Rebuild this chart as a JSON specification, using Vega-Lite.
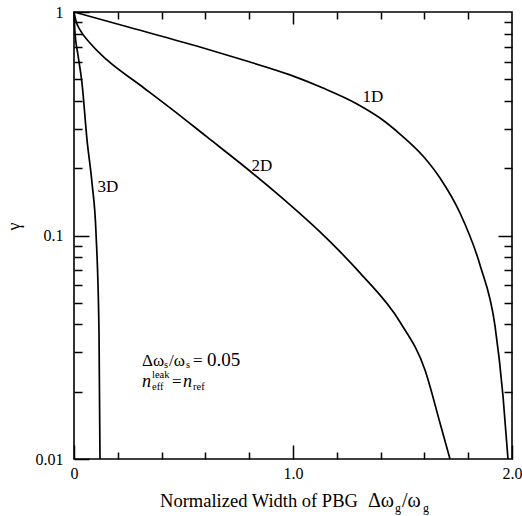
{
  "$schema": "https://vega.github.io/schema/vega-lite/v6.json",
  "autosize": "none",
  "width": 438,
  "height": 447,
  "padding": {"left": 74, "top": 12, "right": 10, "bottom": 57},
  "background": "white",
  "config": {
    "view": {"stroke": "black", "strokeWidth": 1.6},
    "axis": {"domain": false, "grid": false, "labelFont": "Liberation Serif", "labelFontSize": 16, "labelColor": "black", "tickColor": "black", "tickWidth": 1.5, "labelFlush": false, "labelOverlap": false, "titleFont": "Liberation Serif", "titleColor": "black", "titleFontWeight": "normal"},
    "text": {"font": "Liberation Serif", "color": "black", "baseline": "alphabetic", "align": "left"}
  },
  "datasets": {
    "curves": [
      {"curve": "1D", "x": 0, "y": 1},
      {"curve": "1D", "x": 0.2557, "y": 0.852},
      {"curve": "1D", "x": 0.5753, "y": 0.697},
      {"curve": "1D", "x": 0.758, "y": 0.616},
      {"curve": "1D", "x": 0.9863, "y": 0.523},
      {"curve": "1D", "x": 1.137, "y": 0.457},
      {"curve": "1D", "x": 1.2922, "y": 0.388},
      {"curve": "1D", "x": 1.3973, "y": 0.3355},
      {"curve": "1D", "x": 1.4886, "y": 0.2844},
      {"curve": "1D", "x": 1.5936, "y": 0.2268},
      {"curve": "1D", "x": 1.6712, "y": 0.1809},
      {"curve": "1D", "x": 1.7626, "y": 0.1261},
      {"curve": "1D", "x": 1.8539, "y": 0.0738},
      {"curve": "1D", "x": 1.9224, "y": 0.0394},
      {"curve": "1D", "x": 1.9589, "y": 0.01913},
      {"curve": "1D", "x": 1.9817, "y": 0.01},
      {"curve": "2D", "x": 0, "y": 1},
      {"curve": "2D", "x": 0.0091, "y": 0.911},
      {"curve": "2D", "x": 0.0274, "y": 0.831},
      {"curve": "2D", "x": 0.0731, "y": 0.727},
      {"curve": "2D", "x": 0.1507, "y": 0.61},
      {"curve": "2D", "x": 0.3014, "y": 0.4715},
      {"curve": "2D", "x": 0.4521, "y": 0.364},
      {"curve": "2D", "x": 0.6073, "y": 0.276},
      {"curve": "2D", "x": 0.758, "y": 0.211},
      {"curve": "2D", "x": 0.9406, "y": 0.15},
      {"curve": "2D", "x": 1.1233, "y": 0.1037},
      {"curve": "2D", "x": 1.3059, "y": 0.068},
      {"curve": "2D", "x": 1.4886, "y": 0.041},
      {"curve": "2D", "x": 1.6027, "y": 0.025},
      {"curve": "2D", "x": 1.6712, "y": 0.0145},
      {"curve": "2D", "x": 1.7169, "y": 0.01},
      {"curve": "3D", "x": 0, "y": 1},
      {"curve": "3D", "x": 0.0046, "y": 0.805},
      {"curve": "3D", "x": 0.0183, "y": 0.642},
      {"curve": "3D", "x": 0.0365, "y": 0.481},
      {"curve": "3D", "x": 0.0594, "y": 0.268},
      {"curve": "3D", "x": 0.0822, "y": 0.172},
      {"curve": "3D", "x": 0.1005, "y": 0.1026},
      {"curve": "3D", "x": 0.1142, "y": 0.0366},
      {"curve": "3D", "x": 0.1187, "y": 0.01}
    ],
    "labels": [
      {"x": 1.365, "y": 0.417, "t": "1D"},
      {"x": 0.858, "y": 0.205, "t": "2D"},
      {"x": 0.155, "y": 0.165, "t": "3D"}
    ],
    "texts": [
      {"kind": "ann", "x": 0.3105, "y": 0.02607, "t": "Δω"},
      {"kind": "ann", "x": 0.4338, "y": 0.02607, "t": "/ω"},
      {"kind": "ann", "x": 0.5434, "y": 0.02607, "t": "="},
      {"kind": "num", "x": 0.6073, "y": 0.02607, "t": "0.05"},
      {"kind": "ann", "x": 0.4475, "y": 0.021, "t": "="},
      {"kind": "ital", "x": 0.3105, "y": 0.021, "t": "n"},
      {"kind": "ital", "x": 0.4977, "y": 0.021, "t": "n"},
      {"kind": "small", "x": 0.411, "y": 0.02554, "t": "s"},
      {"kind": "small", "x": 0.5114, "y": 0.02554, "t": "s"},
      {"kind": "small", "x": 0.3562, "y": 0.02036, "t": "eff"},
      {"kind": "small", "x": 0.3562, "y": 0.02292, "t": "leak"},
      {"kind": "small", "x": 0.5434, "y": 0.02036, "t": "ref"},
      {"kind": "title", "x": 0.393, "y": 0.0061, "t": "Normalized Width of PBG"},
      {"kind": "greek", "x": 1.3425, "y": 0.0061, "t": "Δω"},
      {"kind": "greek", "x": 1.4977, "y": 0.0061, "t": "/ω"},
      {"kind": "titlesub", "x": 1.4658, "y": 0.0058, "t": "g"},
      {"kind": "titlesub", "x": 1.5936, "y": 0.0058, "t": "g"}
    ]
  },
  "resolve": {"axis": {"x": "independent", "y": "independent"}},
  "layer": [
    {
      "data": {"name": "curves"},
      "mark": {"type": "line", "color": "black", "strokeWidth": 1.7, "interpolate": "monotone"},
      "encoding": {
        "x": {"field": "x", "type": "quantitative", "scale": {"domain": [0, 2], "nice": false, "zero": false},
          "axis": {"orient": "bottom", "values": [0, 1, 2], "tickSize": -14, "labelPadding": 20, "labelExpr": "datum.value == 0 ? '0' : format(datum.value, '.1f')", "title": null}},
        "y": {"field": "y", "type": "quantitative", "scale": {"type": "log", "domain": [0.01, 1], "nice": false},
          "axis": {"orient": "left", "values": [0.01, 0.1, 1], "tickSize": -15, "labelPadding": 26, "labelExpr": "datum.value > 0.5 ? '1' : datum.value > 0.05 ? '0.1' : '0.01'", "title": "γ", "titleFontSize": 18, "titleX": -60, "titleY": 214, "titleBaseline": "middle", "titleAlign": "center"}},
        "detail": {"field": "curve"}
      }
    },
    {
      "data": {"name": "labels"},
      "mark": {"type": "text", "fontSize": 17, "align": "center", "baseline": "middle"},
      "encoding": {
        "x": {"field": "x", "type": "quantitative", "scale": {"domain": [0, 2], "nice": false, "zero": false},
          "axis": {"orient": "bottom", "values": [0.2, 0.4, 0.6, 0.8, 1.2, 1.4, 1.6, 1.8], "tickSize": -7, "labels": false, "title": null}},
        "y": {"field": "y", "type": "quantitative", "scale": {"type": "log", "domain": [0.01, 1], "nice": false},
          "axis": {"orient": "left", "values": [0.02, 0.03, 0.04, 0.05, 0.06, 0.07, 0.08, 0.09, 0.2, 0.3, 0.4, 0.5, 0.6, 0.7, 0.8, 0.9], "tickSize": -8, "labels": false, "title": null}},
        "text": {"field": "t"}
      }
    },
    {
      "data": {"name": "texts"},
      "transform": [{"filter": "datum.kind == 'ann'"}],
      "mark": {"type": "text", "fontSize": 17},
      "encoding": {
        "x": {"field": "x", "type": "quantitative", "scale": {"domain": [0, 2], "nice": false, "zero": false},
          "axis": {"orient": "top", "values": [1], "tickSize": -12, "labels": false, "title": null}},
        "y": {"field": "y", "type": "quantitative", "scale": {"type": "log", "domain": [0.01, 1], "nice": false},
          "axis": {"orient": "right", "values": [0.1], "tickSize": -14, "labels": false, "title": null}},
        "text": {"field": "t"}
      }
    },
    {
      "data": {"name": "texts"},
      "transform": [{"filter": "datum.kind == 'ital'"}],
      "mark": {"type": "text", "fontSize": 18, "fontStyle": "italic"},
      "encoding": {
        "x": {"field": "x", "type": "quantitative", "scale": {"domain": [0, 2], "nice": false, "zero": false},
          "axis": {"orient": "top", "values": [0.2, 0.4, 0.6, 0.8, 1.2, 1.4, 1.6, 1.8], "tickSize": -7, "labels": false, "title": null}},
        "y": {"field": "y", "type": "quantitative", "scale": {"type": "log", "domain": [0.01, 1], "nice": false},
          "axis": {"orient": "right", "values": [0.02, 0.03, 0.04, 0.05, 0.06, 0.07, 0.08, 0.09, 0.2, 0.3, 0.4, 0.5, 0.6, 0.7, 0.8, 0.9], "tickSize": -8, "labels": false, "title": null}},
        "text": {"field": "t"}
      }
    },
    {
      "data": {"name": "texts"},
      "transform": [{"filter": "datum.kind == 'num'"}],
      "mark": {"type": "text", "fontSize": 19},
      "encoding": {
        "x": {"field": "x", "type": "quantitative", "scale": {"domain": [0, 2], "nice": false, "zero": false}, "axis": null},
        "y": {"field": "y", "type": "quantitative", "scale": {"type": "log", "domain": [0.01, 1], "nice": false}, "axis": null},
        "text": {"field": "t"}
      }
    },
    {
      "data": {"name": "texts"},
      "transform": [{"filter": "datum.kind == 'small'"}],
      "mark": {"type": "text", "fontSize": 10.5},
      "encoding": {
        "x": {"field": "x", "type": "quantitative", "scale": {"domain": [0, 2], "nice": false, "zero": false}, "axis": null},
        "y": {"field": "y", "type": "quantitative", "scale": {"type": "log", "domain": [0.01, 1], "nice": false}, "axis": null},
        "text": {"field": "t"}
      }
    },
    {
      "data": {"name": "texts"},
      "transform": [{"filter": "datum.kind == 'title'"}],
      "mark": {"type": "text", "fontSize": 18.5},
      "encoding": {
        "x": {"field": "x", "type": "quantitative", "scale": {"domain": [0, 2], "nice": false, "zero": false}, "axis": null},
        "y": {"field": "y", "type": "quantitative", "scale": {"type": "log", "domain": [0.01, 1], "nice": false}, "axis": null},
        "text": {"field": "t"}
      }
    },
    {
      "data": {"name": "texts"},
      "transform": [{"filter": "datum.kind == 'greek'"}],
      "mark": {"type": "text", "fontSize": 20},
      "encoding": {
        "x": {"field": "x", "type": "quantitative", "scale": {"domain": [0, 2], "nice": false, "zero": false}, "axis": null},
        "y": {"field": "y", "type": "quantitative", "scale": {"type": "log", "domain": [0.01, 1], "nice": false}, "axis": null},
        "text": {"field": "t"}
      }
    },
    {
      "data": {"name": "texts"},
      "transform": [{"filter": "datum.kind == 'titlesub'"}],
      "mark": {"type": "text", "fontSize": 12},
      "encoding": {
        "x": {"field": "x", "type": "quantitative", "scale": {"domain": [0, 2], "nice": false, "zero": false}, "axis": null},
        "y": {"field": "y", "type": "quantitative", "scale": {"type": "log", "domain": [0.01, 1], "nice": false}, "axis": null},
        "text": {"field": "t"}
      }
    }
  ]
}
